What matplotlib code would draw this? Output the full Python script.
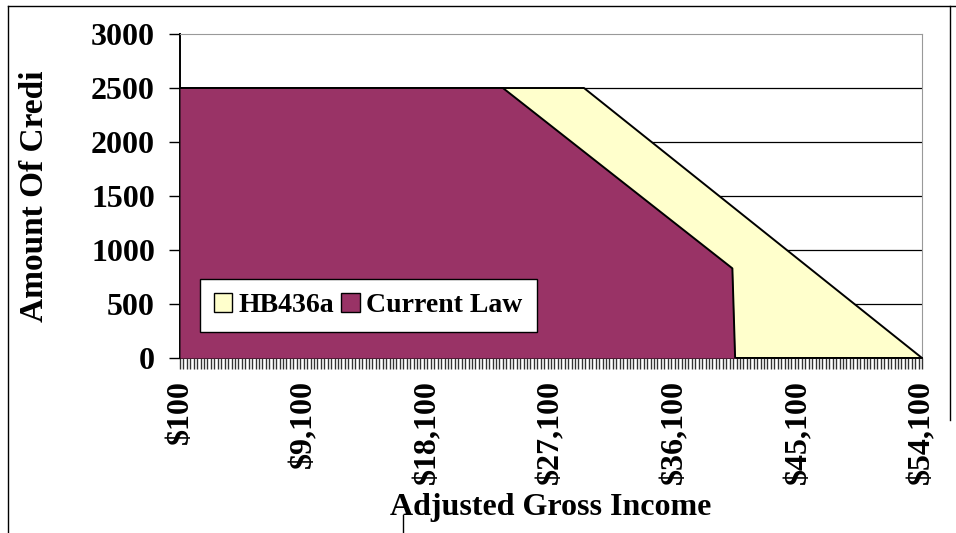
import numpy as np
import matplotlib.pyplot as plt
from matplotlib.patches import Patch
from matplotlib.lines import Line2D

plt.rcParams['font.family'] = ['Liberation Serif', 'DejaVu Serif']
plt.rcParams['font.weight'] = 'bold'

########
# Data #
########
# breakpoints of each series (income, credit)
hb_income = [100, 29500, 54100]
hb_credit = [2500, 2500, 0]
cl_income = [100, 23600, 40300, 40500, 54100]
cl_credit = [2500, 2500, 830, 0, 0]

x_labels = ["$100", "$9,100", "$18,100", "$27,100", "$36,100", "$45,100", "$54,100"]
x_label_pos = [100, 9100, 18100, 27100, 36100, 45100, 54100]
y_ticks = [0, 500, 1000, 1500, 2000, 2500, 3000]

col_hb = "#FFFFCC"
col_cl = "#993366"

fig = plt.figure(figsize=(9.56, 5.33), dpi=100)
ax = fig.add_axes([180/956, 1-358/533, (922-180)/956, (358-34)/533])

# grille
for v in y_ticks[1:-1]:
    ax.axhline(v, color="black", lw=0.9, zorder=1)

ax.fill_between(hb_income, hb_credit, 0, color=col_hb, zorder=2, lw=0)
ax.plot(hb_income, hb_credit, color="black", lw=1.4, zorder=3)
ax.fill_between(cl_income, cl_credit, 0, color=col_cl, zorder=4, lw=0)
ax.plot(cl_income, cl_credit, color="black", lw=1.4, zorder=5)

ax.set_xlim(100, 54100)
ax.set_ylim(0, 3000)
ax.set_yticks(y_ticks)
ax.set_yticklabels([str(v) for v in y_ticks], fontsize=23, fontweight="bold")
ax.set_xticks(x_label_pos)
ax.set_xticklabels(x_labels, rotation=90, fontsize=23, fontweight="bold")
ax.set_xticks(np.arange(100, 54101, 250), minor=True)
ax.tick_params(axis="x", which="both", direction="out", length=8, width=1, color="#333333", pad=8)
ax.tick_params(axis="y", direction="out", length=8, width=1, pad=10)

for s in ["top", "right"]:
    ax.spines[s].set_color("#999999")
for s in ["left", "bottom"]:
    ax.spines[s].set_color("black")
    ax.spines[s].set_linewidth(1.4)

ax.set_xlabel("Adjusted Gross Income", fontsize=23, fontweight="bold", labelpad=6)
fig.text(35/956, 1-196/533, "Amount Of Credi", rotation=90, fontsize=24,
         fontweight="bold", ha="center", va="center")

handles = [Patch(facecolor=col_hb, edgecolor="black", lw=1),
           Patch(facecolor=col_cl, edgecolor="black", lw=1)]
leg = ax.legend(handles, ["HB436a", "Current Law"], ncol=2, loc="lower left",
                bbox_to_anchor=((200-180)/742, (358-332)/324),
                prop={"size": 20, "weight": "bold"}, frameon=True, fancybox=False,
                framealpha=1, handlelength=0.65, handleheight=0.65, handletextpad=0.25,
                columnspacing=0.25, borderpad=0.5, borderaxespad=0)
leg.get_frame().set_edgecolor("black")
leg.get_frame().set_facecolor("white")
leg.get_frame().set_linewidth(1)
leg.set_zorder(10)

# cadre de la zone graphique
fig.add_artist(Line2D([8/956, 8/956], [0, 1-6/533], color="black", lw=1))
fig.add_artist(Line2D([8/956, 1], [1-6/533, 1-6/533], color="black", lw=1))
fig.add_artist(Line2D([950/956, 950/956], [1-420/533, 1-6/533], color="black", lw=1))
fig.add_artist(Line2D([403/956, 403/956], [0, 1-515/533], color="black", lw=1))

fig.savefig("out.png", dpi=100)
